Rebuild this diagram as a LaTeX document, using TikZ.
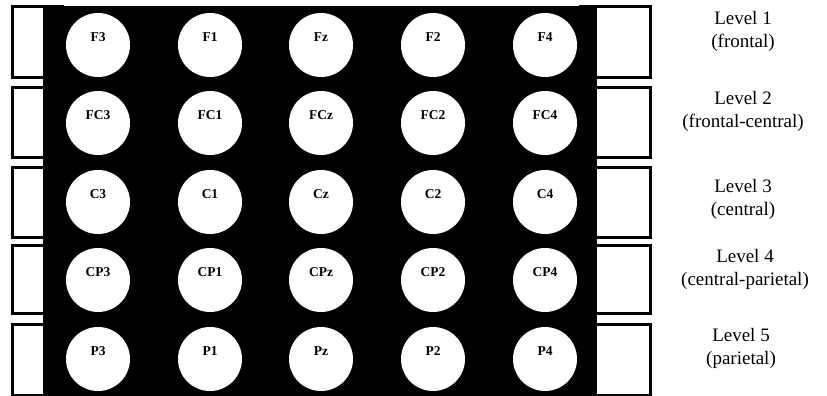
\documentclass[tikz,border=0pt]{standalone}
\usepackage{fontspec}
\setmainfont{Liberation Serif}
\begin{document}
\begin{tikzpicture}[x=1pt,y=-1pt,
  sidebox/.style={draw=black,line width=3pt,fill=white},
  elec/.style={circle,fill=white,draw=none,minimum size=64pt,inner sep=0pt},
  elab/.style={inner sep=0pt,font=\fontsize{13.5}{13.5}\selectfont\bfseries},
  lvl/.style={align=center,inner sep=0pt,font=\fontsize{19}{23}\selectfont}]
\useasboundingbox (0,0) rectangle (827,396);
% side boxes
\foreach \ya/\yb in {7/77,87/157,167/237,245/313,324/395}{
  \draw[sidebox] (12,\ya) rectangle (62,\yb);
  \draw[sidebox] (580,\ya) rectangle (650,\yb);
}
% black panel
\node[fill=black,draw=none,inner sep=0pt,minimum width=554pt,minimum height=391pt,anchor=north west] (panel) at (43,5.5) {};
% electrodes
\foreach \xx/\c in {98/1,210/2,321/3,433/4,545/5}{
  \foreach \yy/\r in {45/1,123/2,202/3,280/4,359/5}{
    \node[elec] (e-\r-\c) at (\xx,\yy) {};
  }
}
\foreach \lab/\c in {F3/1,F1/2,Fz/3,F2/4,F4/5}{\node[elab] (t-1-\c) at ([yshift=7.5pt]e-1-\c.center) {\lab};}
\foreach \lab/\c in {FC3/1,FC1/2,FCz/3,FC2/4,FC4/5}{\node[elab] (t-2-\c) at ([yshift=7.5pt]e-2-\c.center) {\lab};}
\foreach \lab/\c in {C3/1,C1/2,Cz/3,C2/4,C4/5}{\node[elab] (t-3-\c) at ([yshift=7.5pt]e-3-\c.center) {\lab};}
\foreach \lab/\c in {CP3/1,CP1/2,CPz/3,CP2/4,CP4/5}{\node[elab] (t-4-\c) at ([yshift=7.5pt]e-4-\c.center) {\lab};}
\foreach \lab/\c in {P3/1,P1/2,Pz/3,P2/4,P4/5}{\node[elab] (t-5-\c) at ([yshift=7.5pt]e-5-\c.center) {\lab};}
% level labels
\node[lvl] (lv1) at (743,31) {Level 1\\(frontal)};
\node[lvl] (lv2) at (743,111) {Level 2\\(frontal-central)};
\node[lvl] (lv3) at (743,199) {Level 3\\(central)};
\node[lvl] (lv4) at (745,269) {Level 4\\(central-parietal)};
\node[lvl] (lv5) at (741,348) {Level 5\\(parietal)};
\end{tikzpicture}
\end{document}
